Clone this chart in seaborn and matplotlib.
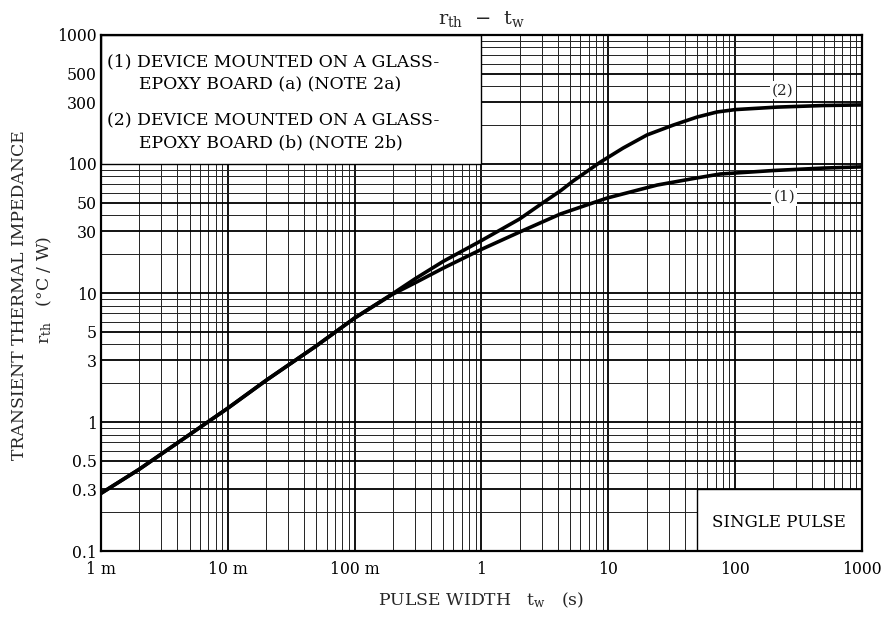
import numpy as np
import pandas as pd
import matplotlib
matplotlib.use("Agg")
import matplotlib.pyplot as plt
import seaborn as sns
from matplotlib.patches import Rectangle
from matplotlib.ticker import FixedLocator, FixedFormatter, LogLocator, NullFormatter

# pulse width (s) and transient thermal impedance (degC/W)
tw_board_a = [0.001, 0.002, 0.005, 0.01, 0.02, 0.05, 0.1, 0.2, 0.3, 0.5, 1.0,
              2.0, 4.2, 9.8, 24.3, 50.0, 76.0, 200.0, 500.0, 1000.0]
rth_board_a = [0.28, 0.43, 0.80, 1.28, 2.1, 3.9, 6.4, 9.8, 12.0, 15.6, 21.8,
               29.7, 41.0, 54.5, 68.7, 78.0, 83.6, 89.0, 93.0, 95.0]

tw_board_b = [0.001, 0.002, 0.005, 0.01, 0.02, 0.05, 0.1, 0.2, 0.3, 0.5, 1.0,
              2.0, 3.0, 4.2, 5.3, 8.6, 13.1, 20.2, 32.4, 50.0, 72.0, 100.0, 214.0, 500.0, 1000.0]
rth_board_b = [0.28, 0.43, 0.80, 1.28, 2.1, 3.9, 6.4, 9.9, 12.9, 17.6, 25.5,
               37.5, 49.5, 62.0, 74.0, 103.0, 133.0, 168.0, 200.0, 231.0, 253.0, 264.0, 276.0, 284.0, 287.0]

x_ticks = [1e-3, 1e-2, 1e-1, 1, 10, 100, 1000]
x_labels = ["1 m", "10 m", "100 m", "1", "10", "100", "1000"]
y_ticks = [0.1, 0.3, 0.5, 1, 3, 5, 10, 30, 50, 100, 300, 500, 1000]
y_labels = ["0.1", "0.3", "0.5", "1", "3", "5", "10", "30", "50", "100", "300", "500", "1000"]

df = pd.concat([
    pd.DataFrame({"tw": tw_board_a, "rth": rth_board_a, "curve": "(1)"}),
    pd.DataFrame({"tw": tw_board_b, "rth": rth_board_b, "curve": "(2)"}),
])

sns.set_theme(style="white")
plt.rcParams["font.family"] = ["DejaVu Serif"]
plt.rcParams["mathtext.fontset"] = "dejavuserif"

fig = plt.figure(figsize=(8.85, 6.19), dpi=100)
ax = fig.add_axes([0.1141, 0.1098, 0.8599, 0.8337])

sns.lineplot(data=df, x="tw", y="rth", hue="curve", palette=["black", "black"],
             lw=2.6, legend=False, ax=ax, zorder=3)

ax.set_xscale("log")
ax.set_yscale("log")
ax.set_xlim(1e-3, 1000)
ax.set_ylim(0.1, 1000)
ax.set_xlabel("")
ax.set_ylabel("")

# grid
ax.xaxis.set_minor_locator(LogLocator(base=10, subs=np.arange(2, 10)))
ax.yaxis.set_minor_locator(LogLocator(base=10, subs=np.arange(2, 10)))
ax.xaxis.set_minor_formatter(NullFormatter())
ax.yaxis.set_minor_formatter(NullFormatter())
ax.grid(which="major", color="black", lw=1.3, zorder=0)
ax.grid(which="minor", color="#222222", lw=0.7, zorder=0)
ax.set_axisbelow(True)

ax.xaxis.set_major_locator(FixedLocator(x_ticks))
ax.xaxis.set_major_formatter(FixedFormatter(x_labels))
ax.yaxis.set_major_locator(FixedLocator(y_ticks))
ax.yaxis.set_major_formatter(FixedFormatter(y_labels))
ax.tick_params(which="both", length=0, labelsize=11.3, colors="black", pad=3)
ax.tick_params(axis="x", pad=7)

for s in ax.spines.values():
    s.set_color("black")
    s.set_linewidth(1.6)

# white note boxes
ax.add_patch(Rectangle((1e-3, 100), 1 - 1e-3, 900, facecolor="white",
                       edgecolor="black", lw=1.0, zorder=1.5))
ax.add_patch(Rectangle((50, 0.1), 950, 0.2, facecolor="white",
                       edgecolor="black", lw=1.0, zorder=1.5))

tkw = dict(fontsize=12.4, color="black", zorder=4, va="center", transform=ax.transAxes)
ax.text(0.0075, 0.948, "(1) DEVICE MOUNTED ON A GLASS-", **tkw)
ax.text(0.05, 0.903, "EPOXY BOARD (a) (NOTE 2a)", **tkw)
ax.text(0.0075, 0.833, "(2) DEVICE MOUNTED ON A GLASS-", **tkw)
ax.text(0.05, 0.790, "EPOXY BOARD (b) (NOTE 2b)", **tkw)
ax.text(0.891, 0.056, "SINGLE PULSE", ha="center", fontsize=12.0, color="black",
        zorder=4, va="center", transform=ax.transAxes)

lkw = dict(fontsize=11, ha="center", va="center", zorder=4, transform=ax.transAxes,
           bbox=dict(facecolor="white", edgecolor="none", pad=1.5))
ax.text(0.896, 0.893, "(2)", **lkw)
ax.text(0.898, 0.686, "(1)", **lkw)

ax.set_title(r"r$_{\rm th}$  $-$  t$_{\rm w}$", fontsize=14, pad=8)

# axis labels placed to match the datasheet layout
fig.text(0.5435, 1 - 600 / 619, r"PULSE WIDTH   t$_{\rm w}$   (s)", fontsize=12.4,
         ha="center", va="center")
fig.text(20 / 885, 1 - 295 / 619, "TRANSIENT THERMAL IMPEDANCE", fontsize=12.4,
         rotation=90, ha="center", va="center")
fig.text(44 / 885, 1 - 290 / 619, r"r$_{\rm th}$   (°C / W)", fontsize=12.4,
         rotation=90, ha="center", va="center")

fig.savefig("out.png", dpi=100)
plt.close()
